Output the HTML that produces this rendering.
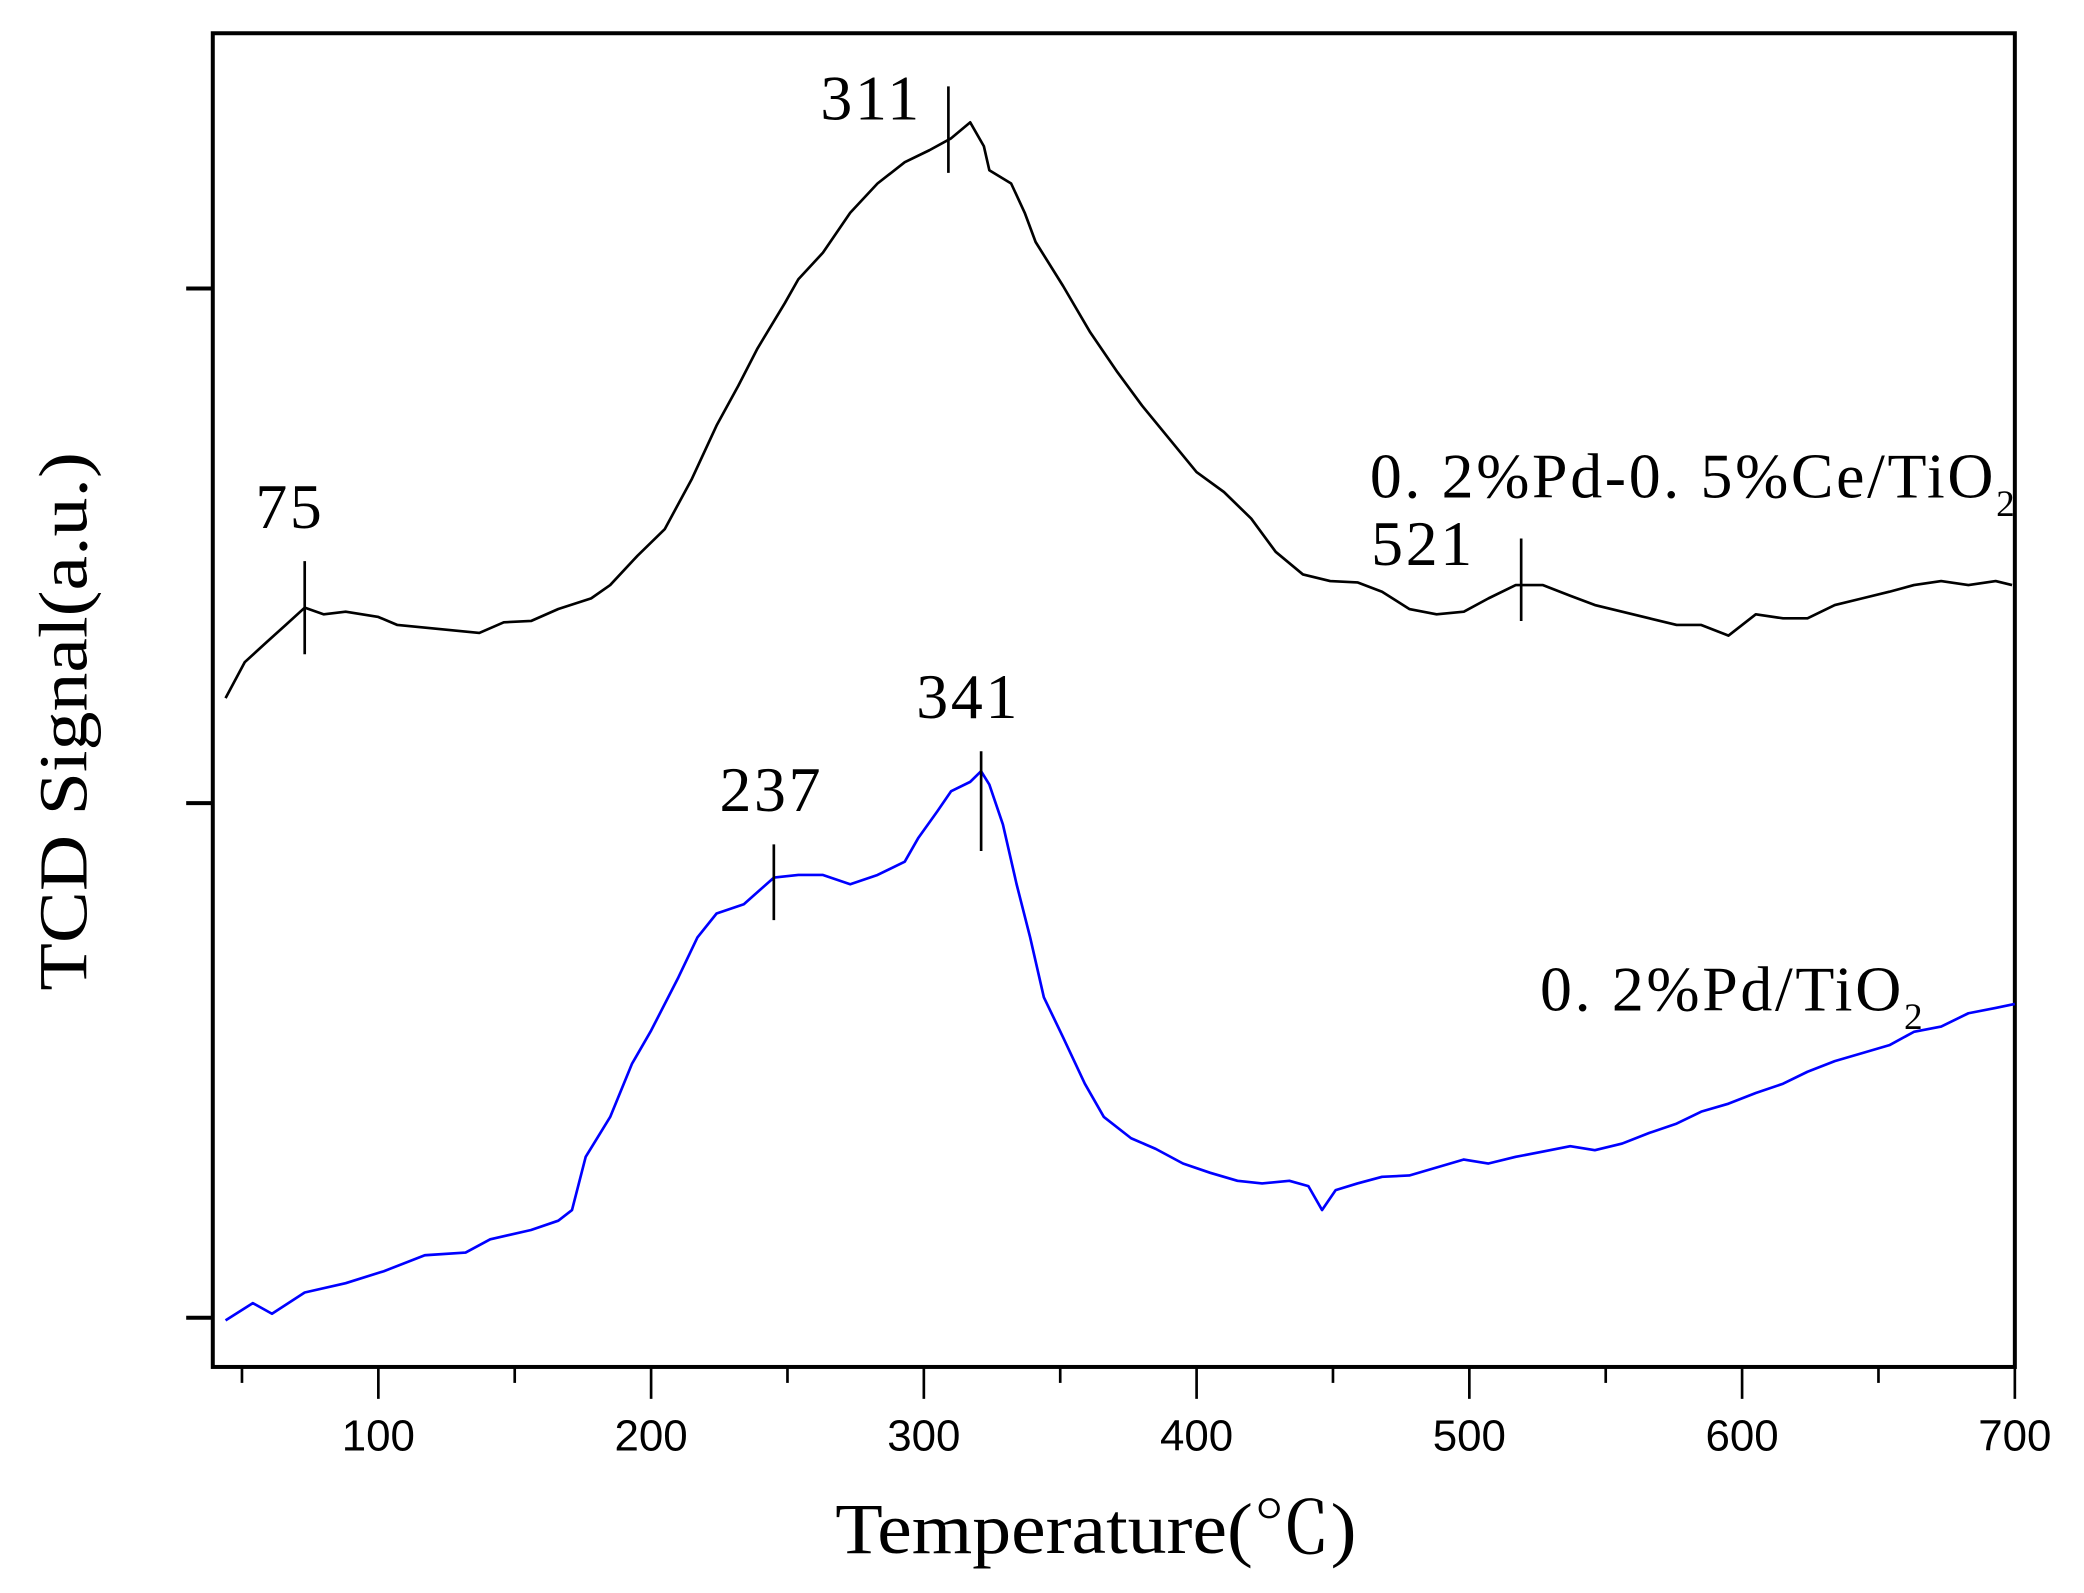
<!DOCTYPE html>
<html><head><meta charset="utf-8"><style>
html,body{margin:0;padding:0;background:#fff;}
svg{display:block;}
.ser{font-family:"Liberation Serif","Noto Serif CJK SC",serif;}
.san{font-family:"Liberation Sans",sans-serif;}
</style></head><body>
<svg id="chart" width="2084" height="1593" viewBox="0 0 1567 1198" preserveAspectRatio="none" xmlns="http://www.w3.org/2000/svg">
<rect x="160" y="25" width="1355" height="1003" fill="none" stroke="#000" stroke-width="3"/>
<g id="xticks"></g>
<g id="yticks"></g>
<g id="series"></g>
<g id="annots"></g>
<text class="ser" x="628" y="1168" font-size="54" textLength="392" lengthAdjust="spacingAndGlyphs">Temperature(℃)</text>
<text class="ser" x="0" y="0" font-size="52" textLength="405" lengthAdjust="spacingAndGlyphs" transform="translate(65 745) rotate(-90)">TCD Signal(a.u.)</text>
<text class="ser" x="1030" y="374" font-size="48" letter-spacing="2">0. 2%Pd-0. 5%Ce/TiO<tspan font-size="28" dy="14">2</tspan></text>
<text class="ser" x="1158" y="760" font-size="48" letter-spacing="2">0. 2%Pd/TiO<tspan font-size="28" dy="14">2</tspan></text>
</svg>
<script>
const xTicks=[100,200,300,400,500,600,700];
const xMinor=[50,150,250,350,450,550,650];
const yTicks=[0,1,2];
const tempA=[44,51,59,66,73,80,88,100,107,122,137,146,156,166,178,185,195,205,215,224,232,239,249,254,263,273,283,293,302,310,317,322,324,332,337,341,351,361,371,380,390,400,410,420,429,439,449,459,468,478,488,498,507,517,527,537,546,556,566,576,585,595,605,615,624,634,644,654,663,673,683,693,699];
const sigA=[466,493,508,521,534,529,531,527,521,518,515,523,524,533,541,551,573,593,631,671,701,729,763,781,801,831,853,869,878,887,899,881,863,853,831,809,776,741,711,686,661,636,621,601,576,559,554,553,546,533,529,531,541,551,551,543,536,531,526,521,521,513,529,526,526,536,541,546,551,554,551,554,551];
const tempB=[44,54,61,73,88,102,117,132,141,156,166,171,176,185,193,200,210,217,224,234,245,254,263,273,283,293,298,305,310,317,321,324,329,334,339,344,351,359,366,376,385,395,405,415,424,434,441,446,451,459,468,478,488,498,507,517,527,537,546,556,566,576,585,595,605,615,624,634,644,654,663,673,683,693,700];
const sigB=[-2,11,3,19,26,35,47,49,59,66,73,81,121,151,191,216,256,286,304,311,331,333,333,326,333,343,361,381,396,403,411,401,371,326,286,241,211,176,151,135,127,116,109,103,101,103,99,81,96,101,106,107,113,119,116,121,125,129,126,131,139,146,155,161,169,176,185,193,199,205,215,219,229,233,236];
const peaksA=[[73,499,569],[309,861,926],[519,524,586]];
const peaksB=[[245,299,356],[321,351,426]];
const labelsA=[["75",218,397],["311",655,90],["521",1070,425]];
const labelsB=[["237",580,610],["341",728,540]];
const NS='http://www.w3.org/2000/svg';
const X0=160,X1=1515,Y0=1028,Y1=25,TMIN=39.3,TMAX=700,VMIN=-37,VMAX=966;
function xs(t){return X0+(t-TMIN)/(TMAX-TMIN)*(X1-X0);}
function ys(v){return Y0-(v-VMIN)/(VMAX-VMIN)*(Y0-Y1);}
function mk(tag,at,parent){const e=document.createElementNS(NS,tag);for(const k in at)e.setAttribute(k,at[k]);parent.appendChild(e);return e;}
const gx=document.getElementById('xticks'),gy=document.getElementById('yticks'),gs=document.getElementById('series'),ga=document.getElementById('annots');
xTicks.forEach(t=>{const l=mk('line',{x1:xs(t),x2:xs(t),y1:1028,y2:1052,stroke:'#000','stroke-width':2},gx);


const tx=mk('text',{x:xs(t),y:1091,'font-size':33,'text-anchor':'middle',class:'san'},gx);tx.textContent=t;

});
xMinor.forEach(t=>{const l=mk('line',{x1:xs(t),x2:xs(t),y1:1028,y2:1040,stroke:'#000','stroke-width':2},gx);

});
yTicks.forEach(v=>{const y=ys(v*387);const l=mk('line',{x1:140,x2:160,y1:y,y2:y,stroke:'#000','stroke-width':3},gy);

});
function line(T,S,col,name){const d=T.map((t,i)=>(i?'L':'M')+xs(t).toFixed(1)+' '+ys(S[i]).toFixed(1)).join(' ');
const p=mk('path',{d:d,fill:'none',stroke:col,'stroke-width':2,'stroke-linejoin':'round'},gs);

}
line(tempA,sigA,'#000','series-pd-ce-tio2');
line(tempB,sigB,'#0000ff','series-pd-tio2');
peaksA.concat(peaksB).forEach(p=>{const l=mk('line',{x1:xs(p[0]),x2:xs(p[0]),y1:ys(p[1]),y2:ys(p[2]),stroke:'#000','stroke-width':2},ga);

});
labelsA.concat(labelsB).forEach(p=>{const t=mk('text',{x:p[1],y:p[2],'font-size':48,'text-anchor':'middle',class:'ser','letter-spacing':2},ga);t.textContent=p[0];

});
</script>
</body></html>
